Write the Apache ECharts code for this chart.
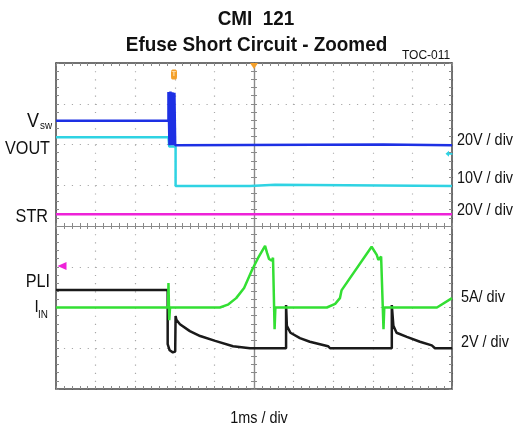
<!DOCTYPE html>
<html><head><meta charset="utf-8">
<script src="https://cdn.jsdelivr.net/npm/echarts/dist/echarts.min.js"></script>
<style>html,body{margin:0;padding:0;background:#fff}#c{width:516px;height:434px}</style>
</head><body><div id="c"></div>
<script>
// Time axis in divisions (1 ms / div), vertical axis in divisions (8 divs, 0 = centre)
const channels = ['STR', 'VOUT', 'Vsw', 'PLI', 'IIN'];
const strData  = [[0, 0.29], [10, 0.29]];
const voutData = [[0, 2.18], [2.84, 2.18], [2.86, 1.95], [3.02, 1.95], [3.02, 0.98], [4.9, 0.98], [4.9, 1.01],
                  [5.53, 1.01], [5.53, 0.98], [10, 0.98]];
const vswData  = [[0, 2.58], [2.84, 2.58], [2.84, 3.29], [2.865, 1.98], [2.89, 3.3], [2.915, 1.98], [2.94, 3.28],
                  [2.965, 1.98], [2.99, 3.27], [3.01, 1.98], [3.01, 2.0], [8.27, 2.0], [8.27, 1.98], [10, 1.98]];
const pliData  = [[0, -1.57], [2.82, -1.57], [2.82, -2.9], [2.87, -3.05], [2.95, -3.1], [3.01, -3.08], [3.02, -2.21],
                  [3.04, -2.3], [3.13, -2.41], [3.38, -2.58], [3.64, -2.7], [4.02, -2.82], [4.47, -2.95], [4.9, -3.0],
                  [5.81, -3.0], [5.81, -1.94], [5.83, -2.45], [5.92, -2.62], [6.16, -2.75], [6.41, -2.84], [6.87, -2.95],
                  [6.92, -3.0], [8.48, -3.0], [8.48, -1.94], [8.52, -2.45], [8.6, -2.62], [8.86, -2.72], [9.19, -2.84],
                  [9.49, -2.93], [9.57, -3.0], [10, -3.0]];
const iinData  = [[0, -2.0], [2.83, -2.0], [2.84, -1.4], [2.86, -2.31], [2.88, -2.0], [4.14, -2.0], [4.34, -1.93],
                  [4.55, -1.77], [4.75, -1.52], [4.95, -1.08], [5.1, -0.79], [5.28, -0.49], [5.33, -0.66], [5.38, -0.81],
                  [5.45, -0.85], [5.48, -0.78], [5.52, -0.78], [5.52, -2.53], [5.54, -2.0], [6.84, -2.0], [7.05, -1.91],
                  [7.17, -1.77], [7.21, -1.58], [7.97, -0.51], [8.1, -0.71], [8.14, -0.83], [8.21, -0.75], [8.26, -0.78],
                  [8.27, -2.53], [8.29, -2.0], [9.62, -2.0], [10, -1.77]];
const triggerMark = [2.98, 3.72];
const trigTopMark = [5, 4];
const pliRefMark  = [0, -0.98];
const voutRefMark = [10, 1.77];
const leftLabels  = ['V', 'sw', 'VOUT', 'STR', 'PLI', 'I', 'IN'];
const rightLabels = ['20V / div', '10V / div', '20V / div', '5A/ div', '2V / div'];
const timeLabel   = '1ms / div';
const titleLines  = ['CMI  121', 'Efuse Short Circuit - Zoomed'];
const figId       = 'TOC-011';

const FF = '"Liberation Sans", Arial, sans-serif';
const frame = '#444', mid = '#8a8a8a', dots = '#a8a8a8';

function txt(x, y, s, size, align, weight, sx) {
  return {type: 'text', x: x, y: y, scaleX: sx == null ? 0.9 : sx, z: 100,
    style: {text: s, fontSize: size, fontFamily: FF, fontWeight: weight || 'normal', fill: '#111',
      align: align, textAlign: align, verticalAlign: 'middle', textVerticalAlign: 'middle'}};
}
function hiddenAxis(gi) { return {type: 'value', gridIndex: gi, show: false, min: 0, max: 10}; }
function edgeAxis(gi, pos, min, max, color, width, inside, split, dash) {
  return {type: 'value', gridIndex: gi, position: pos, min: min, max: max, interval: 1,
    axisLine: {show: true, onZero: false, lineStyle: {color: color, width: width}},
    axisTick: {show: true, inside: inside, length: 3, lineStyle: {color: mid, width: 1}},
    minorTick: {show: true, splitNumber: 5, length: 3, lineStyle: {color: mid, width: 1}},
    axisLabel: {show: false},
    splitLine: {show: !!split, lineStyle: {color: dots, width: 1.2, type: dash || 'solid'}},
    minorSplitLine: {show: false}};
}
function line(name, data, color, z, extra) {
  return Object.assign({type: 'line', name: name, data: data, xAxisIndex: 0, yAxisIndex: 0, showSymbol: false,
    symbol: 'none', z: z, lineStyle: {color: color, width: 2.5}, itemStyle: {color: color}, animation: false}, extra || {});
}

const chart = echarts.init(document.getElementById('c'));
chart.setOption({
  animation: false,
  backgroundColor: '#fff',
  grid: [
    {left: 56, top: 63, width: 396, height: 326},
    {left: 56, top: 63, width: 396, height: 163},
    {left: 56, top: 226, width: 396, height: 163},
    {left: 56, top: 63, width: 198, height: 326},
    {left: 254, top: 63, width: 198, height: 326}
  ],
  xAxis: [
    edgeAxis(0, 'bottom', 0, 10, frame, 1.5, true, true, [1.2, 6.95]),
    edgeAxis(0, 'top', 0, 10, frame, 1.5, true, false),
    edgeAxis(1, 'bottom', 0, 10, mid, 1.2, false, false),
    edgeAxis(2, 'top', 0, 10, mid, 1.2, false, false),
    hiddenAxis(3), hiddenAxis(4)
  ],
  yAxis: [
    edgeAxis(0, 'left', -4, 4, frame, 1.5, true, true, [1.2, 6.72]),
    edgeAxis(0, 'right', -4, 4, frame, 1.5, true, false),
    hiddenAxis(1), hiddenAxis(2),
    edgeAxis(3, 'right', -4, 4, mid, 1.2, false, false),
    edgeAxis(4, 'left', -4, 4, mid, 1.2, false, false)
  ],
  series: [
    line(channels[0], strData, '#ee22d8', 5),
    line(channels[1], voutData, '#2fd3e3', 6, {markPoint: {symbol: 'path://M0,5 L5,0 L5,3.5 L10,3.5 L10,6.5 L5,6.5 L5,10 Z',
      symbolSize: [7, 6], symbolOffset: [-3, 0], itemStyle: {color: '#2fd3e3'}, label: {show: false},
      data: [{coord: voutRefMark}]}}),
    line(channels[2], vswData, '#1d30e4', 7, {markPoint: {label: {show: false}, data: [
      {coord: triggerMark, symbol: 'roundRect', symbolSize: [6, 10], itemStyle: {color: '#f4a02a'},
       label: {show: true, formatter: 'T', color: '#ffe0b0', fontSize: 7, fontWeight: 'bold', position: 'inside'}},
      {coord: trigTopMark, symbol: 'triangle', symbolRotate: 180, symbolSize: [8, 6], symbolOffset: [0, 3],
       itemStyle: {color: '#f4a02a'}}
    ]}}),
    line(channels[3], pliData, '#1a1a1a', 8, {markPoint: {symbol: 'triangle', symbolRotate: 90, symbolSize: [8, 9],
      symbolOffset: [6, 0], itemStyle: {color: '#ee22d8'}, label: {show: false}, data: [{coord: pliRefMark}]}}),
    line(channels[4], iinData, '#33df33', 9)
  ],
  graphic: [
    txt(256, 19.5, titleLines[0], 21, 'center', 'bold'),
    txt(256.5, 45, titleLines[1], 21, 'center', 'bold'),
    txt(402, 55.5, figId, 12, 'left', 'normal', 1),
    txt(27, 121, leftLabels[0], 20, 'left'),
    txt(40, 125.5, leftLabels[1], 11, 'left'),
    txt(50, 149.5, leftLabels[2], 18, 'right'),
    txt(48, 217.5, leftLabels[3], 18, 'right'),
    txt(50, 282, leftLabels[4], 18, 'right'),
    txt(34.5, 307.5, leftLabels[5], 17, 'left'),
    txt(38, 315, leftLabels[6], 11, 'left'),
    txt(457, 141, rightLabels[0], 16, 'left'),
    txt(457, 179, rightLabels[1], 16, 'left'),
    txt(457, 211, rightLabels[2], 16, 'left'),
    txt(461, 298, rightLabels[3], 16, 'left'),
    txt(461, 343, rightLabels[4], 16, 'left'),
    txt(259, 419, timeLabel, 16, 'center')
  ]
});
</script></body></html>
